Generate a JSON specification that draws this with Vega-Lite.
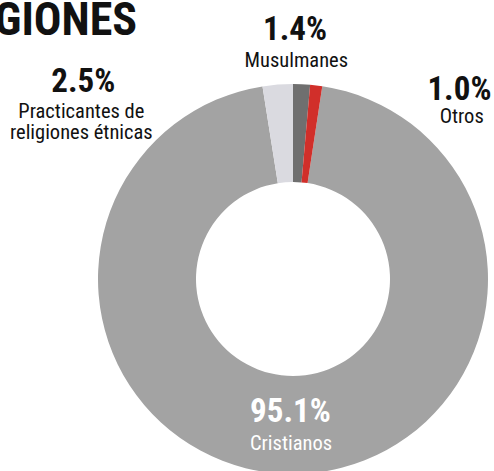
{
  "$schema": "https://vega.github.io/schema/vega-lite/v6.json",
  "width": 402,
  "height": 384,
  "autosize": {"type": "none"},
  "padding": {"left": 92, "top": 87, "right": 0, "bottom": 0},
  "background": "#ffffff",
  "title": {
    "text": "RELIGIONES",
    "anchor": "start",
    "frame": "group",
    "orient": "top",
    "offset": -67,
    "dx": -180,
    "baseline": "alphabetic",
    "font": "Roboto Condensed",
    "fontSize": 46,
    "fontWeight": "bold",
    "color": "#111111"
  },
  "data": {
    "values": [
      {"categoria": "Cristianos", "nombre": "Cristianos", "valor": 0.951},
      {"categoria": "Practicantes de religiones étnicas", "nombre": "Practicantes de\nreligiones étnicas", "valor": 0.025},
      {"categoria": "Musulmanes", "nombre": "Musulmanes", "valor": 0.014},
      {"categoria": "Otros", "nombre": "Otros", "valor": 0.010}
    ]
  },
  "encoding": {
    "theta": {"field": "valor", "type": "quantitative", "stack": true, "scale": {"range": [0.150796, 6.433982]}},
    "order": {"field": "valor", "sort": "descending"}
  },
  "layer": [
    {
      "mark": {"type": "arc", "outerRadius": 195, "innerRadius": 97},
      "encoding": {
        "color": {
          "field": "categoria",
          "type": "nominal",
          "legend": null,
          "scale": {
            "domain": ["Cristianos", "Practicantes de religiones étnicas", "Musulmanes", "Otros"],
            "range": ["#a3a3a3", "#dadae0", "#6f6f6f", "#d12f2a"]
          }
        }
      }
    },
    {
      "mark": {"type": "text", "radius": 239, "dx": -8.5, "baseline": "alphabetic", "align": "center", "font": "Roboto Condensed", "fontSize": 33, "fontWeight": "bold", "color": "#111111"},
      "encoding": {"text": {"condition": {"test": "datum.categoria === 'Musulmanes'", "field": "valor", "format": ".1%"}, "value": ""}}
    },
    {
      "mark": {"type": "text", "radius": 212, "dx": -6, "baseline": "alphabetic", "align": "center", "font": "Roboto Condensed", "fontSize": 20.5, "color": "#111111"},
      "encoding": {"text": {"condition": {"test": "datum.categoria === 'Musulmanes'", "field": "nombre"}, "value": ""}}
    },
    {
      "mark": {"type": "text", "radius": 180, "dx": 145, "baseline": "alphabetic", "align": "center", "font": "Roboto Condensed", "fontSize": 33, "fontWeight": "bold", "color": "#111111"},
      "encoding": {"text": {"condition": {"test": "datum.categoria === 'Otros'", "field": "valor", "format": ".1%"}, "value": ""}}
    },
    {
      "mark": {"type": "text", "radius": 157, "dx": 150, "baseline": "alphabetic", "align": "center", "font": "Roboto Condensed", "fontSize": 20.5, "color": "#111111"},
      "encoding": {"text": {"condition": {"test": "datum.categoria === 'Otros'", "field": "nombre"}, "value": ""}}
    },
    {
      "mark": {"type": "text", "radius": 188, "dx": -195, "baseline": "alphabetic", "align": "center", "font": "Roboto Condensed", "fontSize": 33, "fontWeight": "bold", "color": "#111111"},
      "encoding": {"text": {"condition": {"test": "datum.categoria === 'Practicantes de religiones étnicas'", "field": "valor", "format": ".1%"}, "value": ""}}
    },
    {
      "mark": {"type": "text", "radius": 161.5, "dx": -199, "baseline": "alphabetic", "align": "center", "lineBreak": "\n", "lineHeight": 21, "font": "Roboto Condensed", "fontSize": 20.5, "color": "#111111"},
      "encoding": {"text": {"condition": {"test": "datum.categoria === 'Practicantes de religiones étnicas'", "field": "nombre"}, "value": ""}}
    },
    {
      "mark": {"type": "text", "radius": 143, "dx": -3, "baseline": "alphabetic", "align": "center", "font": "Roboto Condensed", "fontSize": 33, "fontWeight": "bold", "color": "#ffffff"},
      "encoding": {"text": {"condition": {"test": "datum.categoria === 'Cristianos'", "field": "valor", "format": ".1%"}, "value": ""}}
    },
    {
      "mark": {"type": "text", "radius": 171, "dx": -2.5, "baseline": "alphabetic", "align": "center", "font": "Roboto Condensed", "fontSize": 20.5, "color": "#ffffff"},
      "encoding": {"text": {"condition": {"test": "datum.categoria === 'Cristianos'", "field": "nombre"}, "value": ""}}
    }
  ],
  "config": {"view": {"stroke": null}}
}
